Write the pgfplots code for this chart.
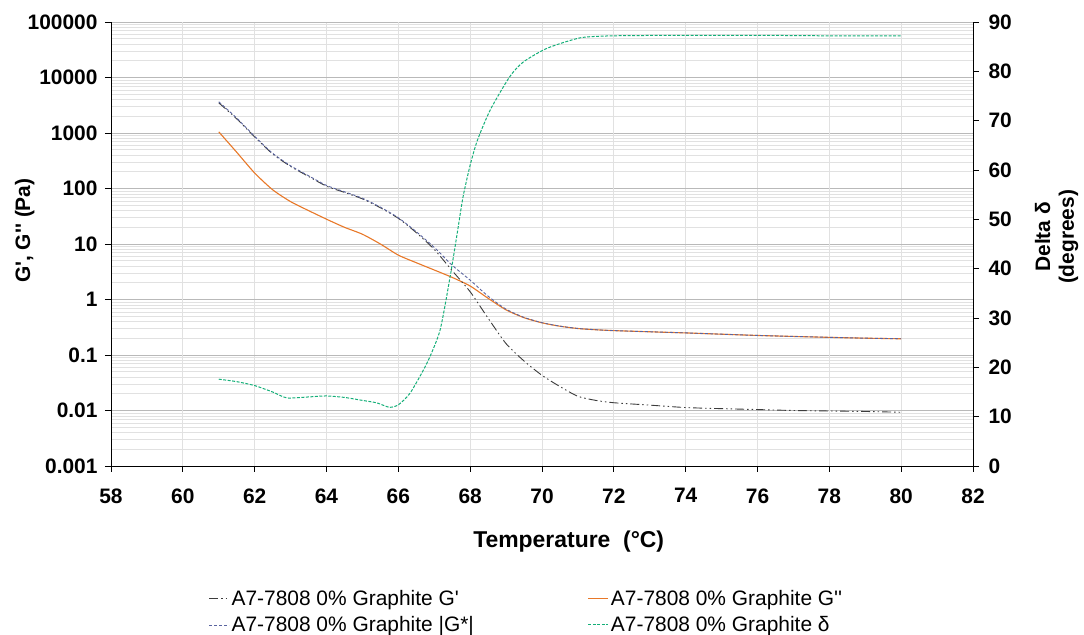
\documentclass[border=0pt]{standalone}
\usepackage{fontspec}
\setmainfont{Liberation Sans}
\usepackage{pgfplots}
\usepackage{pgfplotstable}
\pgfplotsset{compat=1.18}

\definecolor{gpcol}{RGB}{60,60,60}
\definecolor{gppcol}{RGB}{232,120,40}
\definecolor{gstarcol}{RGB}{90,100,160}
\definecolor{dcol}{RGB}{20,175,120}
\definecolor{gridmaj}{RGB}{185,185,185}
\definecolor{gridmin}{RGB}{225,225,225}
\definecolor{gridx}{RGB}{130,130,130}

\newcommand{\q}{\textquotesingle}

% Oscillatory temperature sweep: storage, loss and complex moduli (Pa)
\pgfplotstableread{
T     Gp      Gpp     Gstar
61    3500    1050    3654
61.5  1800    450     1855
62    850     190     871
62.5  420     95      430.6
63    250     58      256.6
63.5  165     40      169.8
64    110     28      113.5
64.5  85      20      87.3
65    65      15      66.7
65.5  45      10      46.1
66    29      6.3     29.7
66.5  16      4.6     16.65
67    8       3.4     8.69
67.5  3.3     2.5     4.14
68    1.38    1.75    2.23
68.5  0.46    1.05    1.146
69    0.16    0.65    0.669
69.5  0.078   0.47    0.476
70    0.043   0.38    0.382
70.5  0.027   0.33    0.331
71    0.018   0.30    0.3005
71.5  0.0152  0.285   0.2854
72    0.0138  0.275   0.2753
73    0.0125  0.262   0.2623
74    0.0113  0.250   0.2503
75    0.0108  0.237   0.2372
76    0.0104  0.225   0.2252
77    0.0100  0.216   0.2162
78    0.0098  0.208   0.2082
79    0.0096  0.201   0.2012
80    0.0093  0.196   0.1962
}\modtable

% Phase angle (degrees)
\pgfplotstableread{
T      delta
61     17.6
61.5   17.1
62     16.3
62.5   15.0
62.9   13.8
63.5   14.0
64     14.2
64.5   13.9
65     13.3
65.4   12.8
65.75  11.9
66     12.4
66.33  14.8
66.8   20.9
67.16  27.5
67.44  38.3
67.64  47.2
67.8   54.5
68     61.0
68.2   66.0
68.56  72.2
69.1   78.9
69.48  81.9
70.15  84.7
71.07  86.8
72     87.2
74     87.3
76     87.3
78     87.2
80     87.2
}\deltatable

\pgfplotsset{
  gpstyle/.style={gpcol, line width=0.9bp, dash pattern=on 9bp off 3bp on 1.5bp off 3bp on 1.5bp off 3bp},
  gppstyle/.style={gppcol, line width=1.1bp},
  gstarstyle/.style={gstarcol, line width=0.9bp, dash pattern=on 3bp off 2bp},
  dstyle/.style={dcol, line width=1bp, dash pattern=on 3bp off 1.5bp},
}

\begin{document}
\begin{tikzpicture}
\begin{axis}[
  scale only axis, width=862bp, height=444bp,
  xmin=58, xmax=82,
  ymode=log, ymin=1e-3, ymax=1e5,
  axis x line*=bottom, axis y line*=left,
  axis line style={black, line width=0.9bp},
  xtick={58,60,...,82},
  ytick={1e-3,1e-2,1e-1,1,1e1,1e2,1e3,1e4,1e5},
  yticklabels={0.001,0.01,0.1,1,10,100,1000,10000,100000},
  tick align=outside, major tick length=6bp, minor tick length=0bp,
  tick style={black, line width=0.8bp},
  xmajorgrids, ymajorgrids, yminorgrids,
  x grid style={gridmin, line width=0.8bp},
  y grid style={gridmaj, line width=0.7bp},
  minor y grid style={gridmin, line width=0.6bp},
  extra x ticks={60,66,72,78},
  extra x tick labels={},
  extra x tick style={grid=major, major grid style={gridx, line width=0.8bp}},
  /pgf/number format/assume math mode=true,
  tick label style={font=\fontsize{21}{25}\selectfont\bfseries},
  xticklabel style={yshift=-13bp},
  yticklabel style={xshift=-4bp},
  xlabel={Temperature\ \ (°C)},
  xlabel style={font=\fontsize{23}{27}\selectfont\bfseries, at={(axis description cs:0.531,-0.171)}, anchor=center},
  ylabel={G\q, G\q\q\ (Pa)},
  ylabel style={font=\fontsize{21}{25}\selectfont\bfseries, at={(axis description cs:-0.1,0.53)}, anchor=center},
  clip=false,
]
\addplot[gppstyle, smooth, tension=0.4] table[x=T, y=Gpp] {\modtable};
\addplot[gpstyle, smooth, tension=0.4] table[x=T, y=Gp] {\modtable};
\addplot[gstarstyle, smooth, tension=0.4] table[x=T, y=Gstar] {\modtable};
\end{axis}

\begin{axis}[
  scale only axis, width=862bp, height=444bp,
  xmin=58, xmax=82, ymin=0, ymax=90,
  axis x line=none, axis y line*=right,
  axis line style={black, line width=0.9bp},
  ytick={0,10,...,90},
  tick align=outside, major tick length=6bp,
  tick style={black, line width=0.8bp},
  /pgf/number format/assume math mode=true,
  tick label style={font=\fontsize{21}{25}\selectfont\bfseries},
  yticklabel style={xshift=6bp},
  ylabel={Delta δ\\(degrees)},
  ylabel style={font=\fontsize{21}{24}\selectfont\bfseries, align=center, at={(axis description cs:1.097,0.516)}, anchor=center},
  legend columns=2,
  legend cell align=left,
  legend image code/.code={\draw[mark repeat=2,mark phase=2,#1] plot coordinates {(0bp,0bp) (10bp,0bp) (20bp,0bp)};},
  legend style={draw=none, fill=none, at={(0.482,-0.328)}, anchor=center,
    font=\fontsize{21}{25}\selectfont, row sep=6bp,
    /tikz/every even column/.append style={column sep=112bp}},
]
\addlegendimage{gpstyle}
\addlegendentry{A7-7808 0\% Graphite G\q}
\addlegendimage{gppstyle}
\addlegendentry{A7-7808 0\% Graphite G\q\q}
\addlegendimage{gstarstyle}
\addlegendentry{A7-7808 0\% Graphite |G*|}
\addplot[dstyle, smooth, tension=0.4] table[x=T, y=delta] {\deltatable};
\addlegendentry{A7-7808 0\% Graphite δ}
\end{axis}

\pgfresetboundingbox
\path[use as bounding box] (-111bp,-169bp) rectangle (973bp,466bp);
\end{tikzpicture}
\end{document}
